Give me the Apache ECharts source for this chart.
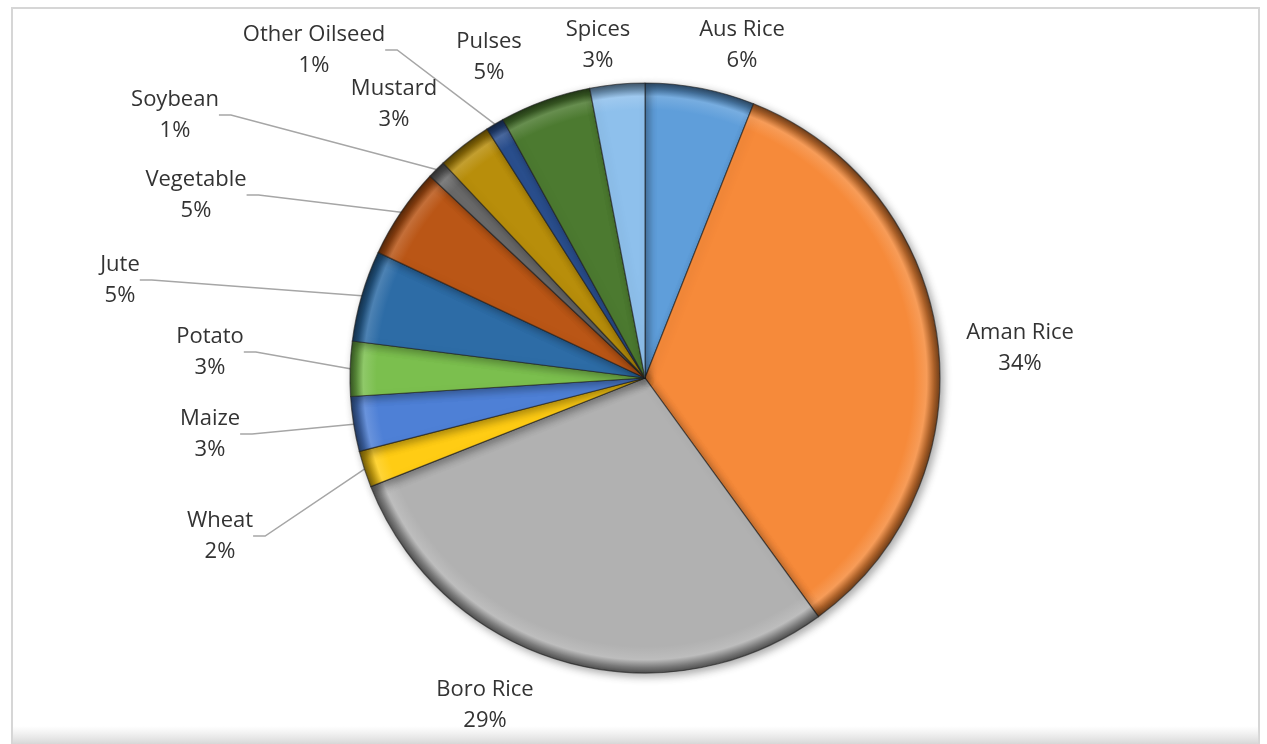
<!DOCTYPE html>
<html>
<head>
<meta charset="utf-8">
<title>Crop area share</title>
<script src="https://cdn.jsdelivr.net/npm/echarts@6/dist/echarts.min.js"></script>
<style>
  html, body { margin: 0; padding: 0; background: #ffffff; }
  #chart { width: 1267px; height: 744px; }
</style>
</head>
<body>
<div id="chart"></div>
<script>
// Crop categories, clockwise from 12 o'clock
const crops = ['Aus Rice', 'Aman Rice', 'Boro Rice', 'Wheat', 'Maize', 'Potato', 'Jute',
               'Vegetable', 'Soybean', 'Mustard', 'Other Oilseed', 'Pulses', 'Spices'];
// Share of area, percent
const shares = [6, 34, 29, 2, 3, 3, 5, 5, 1, 3, 1, 5, 3];

// Slice colours
const sliceColors = ['#5F9EDA', '#F68A3A', '#B1B1B1', '#FFCC14', '#4E80D6', '#7BBF4E', '#2D6CA6',
                     '#BA5616', '#6A6A6A', '#B88E0B', '#2A4F8E', '#4C7A30', '#8EC0EC'];

// Label anchor points (text block centres) and whether a leader line is drawn
const labelAnchors = [
  [742, 45], [1020, 348], [485, 705], [220, 536], [210, 434], [210, 352], [120, 280],
  [196, 195], [175, 115], [394, 104], [314, 50], [489, 57], [598, 45]
];
const leaderLines = [false, false, false, true, true, true, true, true, true, false, true, false, false];

const CX = 645, CY = 378, R = 295;

function shade(hex, f) {
  const n = parseInt(hex.slice(1), 16);
  let r = (n >> 16) & 255, g = (n >> 8) & 255, b = n & 255;
  if (f < 0) { r *= 1 + f; g *= 1 + f; b *= 1 + f; }
  else { r += (255 - r) * f; g += (255 - g) * f; b += (255 - b) * f; }
  return 'rgb(' + Math.round(r) + ',' + Math.round(g) + ',' + Math.round(b) + ')';
}

// Radial fill giving each slice a bevelled rim
function bevel(hex) {
  return {
    type: 'radial', x: CX, y: CY, r: R, global: true,
    colorStops: [
      { offset: 0, color: hex },
      { offset: 0.91, color: hex },
      { offset: 0.955, color: shade(hex, 0.15) },
      { offset: 0.98, color: shade(hex, -0.3) },
      { offset: 1, color: shade(hex, -0.55) }
    ]
  };
}

const pieData = crops.map((name, i) => ({
  name: name,
  value: shares[i],
  itemStyle: { color: bevel(sliceColors[i]) },
  labelLine: { show: leaderLines[i] }
}));

const chart = echarts.init(document.getElementById('chart'), null, { renderer: 'canvas' });

chart.setOption({
  backgroundColor: '#ffffff',
  animation: false,
  graphic: [
    {
      type: 'rect', silent: true, z: -10,
      shape: { x: 12, y: 8, width: 1247, height: 750 },
      style: { fill: '#ffffff', stroke: '#D6D6D6', lineWidth: 2 }
    },
    {
      type: 'rect', silent: true, z: -9,
      shape: { x: 13, y: 726, width: 1246, height: 18 },
      style: {
        fill: {
          type: 'linear', x: 0, y: 0, x2: 0, y2: 1,
          colorStops: [{ offset: 0, color: 'rgba(225,225,225,0)' }, { offset: 1, color: 'rgba(215,215,215,1)' }]
        }
      }
    }
  ],
  series: [{
    type: 'pie',
    center: [CX, CY],
    radius: [0, R],
    startAngle: 90,
    clockwise: true,
    avoidLabelOverlap: false,
    data: pieData,
    itemStyle: {
      borderColor: 'rgba(30,30,30,0.6)',
      borderWidth: 1.2,
      shadowBlur: 9,
      shadowOffsetX: 3,
      shadowOffsetY: 3,
      shadowColor: 'rgba(0,0,0,0.35)'
    },
    label: {
      show: true,
      position: 'outside',
      formatter: p => p.name + '\n' + p.value + '%',
      fontFamily: 'Open Sans',
      fontSize: 22,
      lineHeight: 31,
      color: '#333333',
      align: 'center'
    },
    labelLine: {
      show: true,
      length: 20,
      length2: 12,
      lineStyle: { color: '#A6A6A6', width: 1.5 }
    },
    labelLayout: function (params) {
      const a = labelAnchors[params.dataIndex];
      return { x: a[0], y: a[1], align: 'center', verticalAlign: 'middle' };
    },
    emphasis: { disabled: true }
  }]
});
</script>
</body>
</html>
